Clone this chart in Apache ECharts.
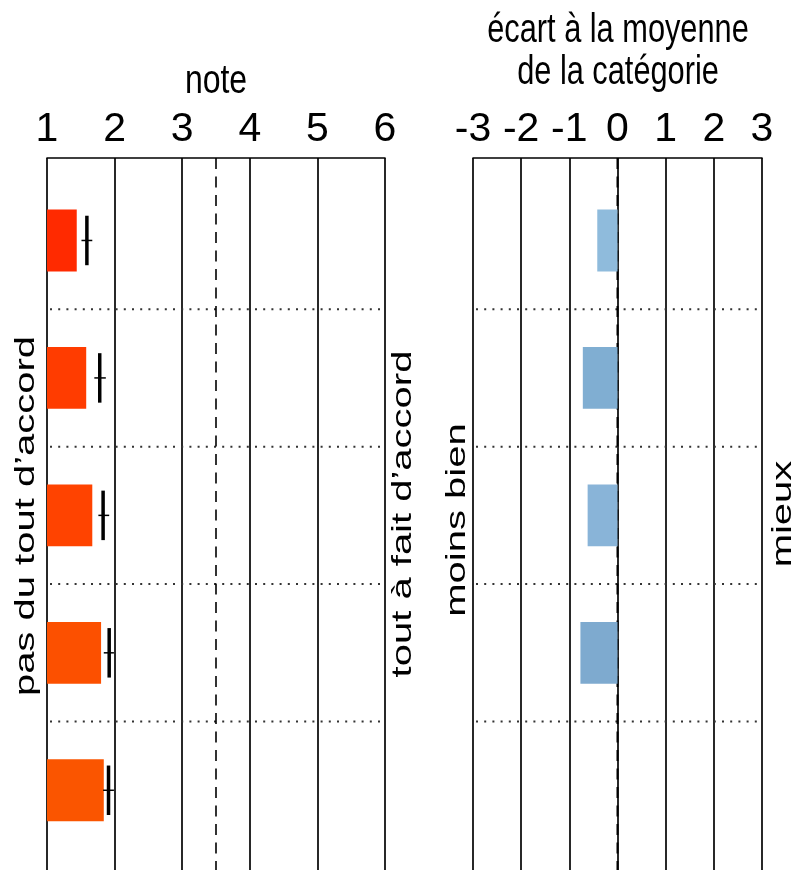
<!DOCTYPE html>
<html>
<head>
<meta charset="utf-8">
<script src="https://cdn.jsdelivr.net/npm/echarts@6.0.0/dist/echarts.min.js"></script>
<style>
  html, body { margin: 0; padding: 0; background: #fff; }
  #main { width: 797px; height: 870px; }
</style>
</head>
<body>
<div id="main"></div>
<script>
  // rows, top to bottom
  var rows = [1, 2, 3, 4, 5];
  // left panel : note (1 = pas du tout d'accord, 6 = tout a fait d'accord)
  var noteBar = [1.44, 1.58, 1.67, 1.80, 1.84];
  var noteMean = [1.59, 1.78, 1.83, 1.92, 1.91];
  var noteLow = [1.51, 1.70, 1.76, 1.84, 1.83];
  var noteHigh = [1.67, 1.87, 1.92, 1.99, 1.99];
  var noteMid = 3.5;
  // right panel : ecart a la moyenne de la categorie
  var gap = [-0.42, -0.72, -0.62, -0.77, null];
  var separators = [1.5, 2.5, 3.5, 4.5];

  var noteColors = ['#ff2a00', '#ff3c00', '#ff4300', '#fc5000', '#fa5500'];
  var gapColors = ['#8fbbdc', '#80aed2', '#89b4d8', '#7eaacf', '#7eaacf'];

  var yMin = 0.4, yMax = 5.58;
  var half = 0.225;
  var font = 'Liberation Sans';
  var narrow = '"Liberation Sans Narrow", "Liberation Sans", sans-serif';

  var myChart = echarts.init(document.getElementById('main'), null, { renderer: 'canvas' });

  function xAxisOf(idx, min, max) {
    return {
      gridIndex: idx, type: 'value', position: 'top',
      min: min, max: max, interval: 1,
      axisLine: { show: true, lineStyle: { color: '#000', width: 1.6 } },
      axisTick: { show: false },
      splitLine: { show: true, showMinLine: true, showMaxLine: true, lineStyle: { color: '#111', width: 1.8 } },
      axisLabel: { color: '#000', fontSize: 41, fontFamily: narrow, margin: 8 }
    };
  }
  function yAxisOf(idx) {
    return {
      gridIndex: idx, type: 'value', inverse: true, min: yMin, max: yMax,
      show: false, splitLine: { show: false }
    };
  }

  function sepSeries(idx) {
    return {
      type: 'custom', xAxisIndex: idx, yAxisIndex: idx, silent: true, z: 3,
      data: separators.map(function (s) { return [0, s]; }),
      renderItem: function (params, api) {
        var cs = params.coordSys;
        var y = api.coord([0, api.value(1)])[1];
        return {
          type: 'line',
          shape: { x1: cs.x + 3, y1: y, x2: cs.x + cs.width, y2: y },
          style: { stroke: '#333', lineWidth: 2, lineDash: [2, 6.2] }
        };
      }
    };
  }

  function vDash(idx, value, width) {
    return {
      type: 'custom', xAxisIndex: idx, yAxisIndex: idx, silent: true, z: 4,
      data: [[value]],
      renderItem: function (params, api) {
        var a = api.coord([api.value(0), yMin]);
        var b = api.coord([api.value(0), yMax]);
        return {
          type: 'line',
          shape: { x1: a[0], y1: a[1], x2: b[0], y2: b[1] },
          style: { stroke: '#000', lineWidth: width, lineDash: [11, 7.5] }
        };
      }
    };
  }

  var option = {
    animation: false,
    backgroundColor: '#fff',
    grid: [
      { left: 47, width: 338, top: 158, bottom: 0 },
      { left: 473, width: 289, top: 158, bottom: 0 }
    ],
    xAxis: [xAxisOf(0, 1, 6), xAxisOf(1, -3, 3)],
    yAxis: [yAxisOf(0), yAxisOf(1)],
    graphic: [
      { type: 'text', x: 216, y: 82, scaleX: 0.78,
        style: { text: 'note', font: '41px ' + font, fill: '#000', align: 'center', verticalAlign: 'middle' } },
      { type: 'text', x: 618, y: 31, scaleX: 0.75,
        style: { text: 'écart à la moyenne', font: '41px ' + font, fill: '#000', align: 'center', verticalAlign: 'middle' } },
      { type: 'text', x: 618, y: 73, scaleX: 0.75,
        style: { text: 'de la catégorie', font: '41px ' + font, fill: '#000', align: 'center', verticalAlign: 'middle' } },
      { type: 'text', x: 26, y: 516, rotation: Math.PI / 2, scaleY: 0.68,
        style: { text: 'pas du tout d’accord', font: '40px ' + font, fill: '#000', align: 'center', verticalAlign: 'middle' } },
      { type: 'text', x: 403, y: 514, rotation: Math.PI / 2, scaleY: 0.68,
        style: { text: 'tout à fait d’accord', font: '40px ' + font, fill: '#000', align: 'center', verticalAlign: 'middle' } },
      { type: 'text', x: 457, y: 520, rotation: Math.PI / 2, scaleY: 0.68,
        style: { text: 'moins bien', font: '40px ' + font, fill: '#000', align: 'center', verticalAlign: 'middle' } },
      { type: 'text', x: 783, y: 514, rotation: Math.PI / 2, scaleY: 0.68,
        style: { text: 'mieux', font: '40px ' + font, fill: '#000', align: 'center', verticalAlign: 'middle' } }
    ],
    series: [
      sepSeries(0),
      sepSeries(1),
      vDash(0, noteMid, 1.6),
      {
        name: 'note', type: 'custom', xAxisIndex: 0, yAxisIndex: 0, z: 5,
        data: rows.map(function (r, i) { return [r, noteBar[i], noteMean[i], noteLow[i], noteHigh[i]]; }),
        encode: { x: [1, 2, 3, 4], y: 0 },
        renderItem: function (params, api) {
          var r = api.value(0);
          var a = api.coord([1, r - half]);
          var b = api.coord([api.value(1), r + half]);
          var m1 = api.coord([api.value(2), r - 0.18]);
          var m2 = api.coord([api.value(2), r + 0.18]);
          var lo = api.coord([api.value(3), r]);
          var hi = api.coord([api.value(4), r]);
          return {
            type: 'group',
            children: [
              { type: 'rect',
                shape: { x: a[0], y: Math.min(a[1], b[1]), width: b[0] - a[0], height: Math.abs(b[1] - a[1]) },
                style: { fill: noteColors[params.dataIndex] } },
              { type: 'line', shape: { x1: m1[0], y1: m1[1], x2: m2[0], y2: m2[1] },
                style: { stroke: '#000', lineWidth: 3.5 } },
              { type: 'line', shape: { x1: lo[0], y1: lo[1], x2: hi[0], y2: hi[1] },
                style: { stroke: '#000', lineWidth: 1.5 } }
            ]
          };
        }
      },
      {
        name: 'ecart', type: 'custom', xAxisIndex: 1, yAxisIndex: 1, z: 5,
        data: rows.map(function (r, i) { return [r, gap[i] == null ? '-' : gap[i]]; }),
        encode: { x: 1, y: 0 },
        renderItem: function (params, api) {
          var r = api.value(0), v = api.value(1);
          if (isNaN(v)) return null;
          var a = api.coord([0, r - half]);
          var b = api.coord([v, r + half]);
          return {
            type: 'rect',
            shape: { x: Math.min(a[0], b[0]), y: Math.min(a[1], b[1]), width: Math.abs(b[0] - a[0]), height: Math.abs(b[1] - a[1]) },
            style: { fill: gapColors[params.dataIndex] }
          };
        }
      },
      vDash(1, 0, 2)
    ]
  };

  myChart.setOption(option);
  window.addEventListener('resize', function () {
    myChart.resize();
  });
</script>
</body>
</html>
